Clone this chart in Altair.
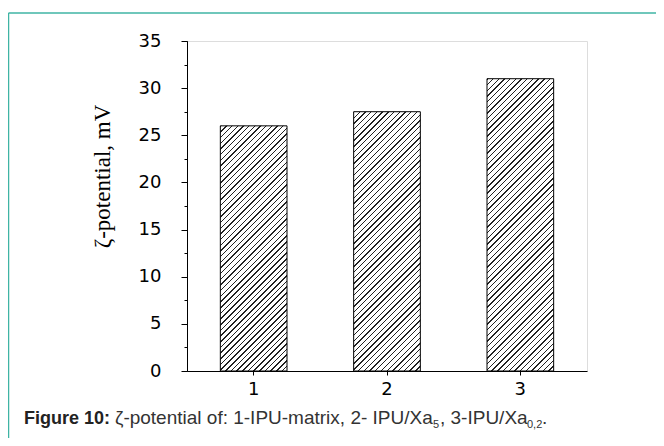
import altair as alt
import pandas as pd

# ---- data ----
categories = ["1", "2", "3"]
zeta_mV = [26.0, 27.5, 31.0]
y_major_ticks = [0, 5, 10, 15, 20, 25, 30, 35]
y_minor_ticks = [2.5, 7.5, 12.5, 17.5, 22.5, 27.5, 32.5]
y_title = "ζ-potential, mV"
caption_bold = "Figure 10:"
caption_parts = [
    ("ζ-potential of: 1-IPU-matrix, 2- IPU/Xa", "main"),
    ("5", "sub"),
    (", 3-IPU/Xa", "main"),
    ("0,2", "sub"),
    (".", "main"),
]

# ---- layout ----
PLOT_W, PLOT_H = 400, 330
PAD_L, PAD_T = 179, 33
PAD_R = 648 - PAD_L - PLOT_W
PAD_B = 430 - PAD_T - PLOT_H
Y_MAX = 35
P_INNER, P_OUTER = 0.5, 0.25

df = pd.DataFrame({"cat": categories, "val": zeta_mV})

step = PLOT_W / (len(categories) - P_INNER + 2 * P_OUTER)
band_w = step * (1 - P_INNER)


def hatch(value, period=5.7, line=1.4, dark="#222222"):
    W = band_w
    H = value / Y_MAX * PLOT_H
    S = W + H
    k = S / (W * W + H * H)
    n = max(1, int(round(S / period)))
    p = 1.0 / n
    dw = line / S
    stops = []
    for i in range(n):
        s = i * p
        stops += [
            alt.GradientStop(offset=min(s, 1), color=dark),
            alt.GradientStop(offset=min(s + dw, 1), color=dark),
            alt.GradientStop(offset=min(s + dw, 1), color="white"),
            alt.GradientStop(offset=min(s + p, 1), color="white"),
        ]
    return alt.LinearGradient(gradient="linear", stops=stops,
                              x1=0, y1=0, x2=k * W, y2=k * H)


x_enc = alt.X("cat:N", title=None,
              scale=alt.Scale(domain=categories, paddingInner=P_INNER, paddingOuter=P_OUTER),
              axis=alt.Axis(labelAngle=0, tickSize=4, labelPadding=5, labelFont="DejaVu Sans",
                            labelFontSize=18, labelColor="black", domainColor="black",
                            tickColor="black", grid=False))

major_axis = alt.Axis(values=y_major_ticks, tickSize=6, labelPadding=20, labelFont="DejaVu Sans",
                      labelFontSize=18, labelColor="black", domainColor="black", tickColor="black",
                      grid=False, orient="left", title=y_title, titleFont="Liberation Serif",
                      titleFontSize=23, titleFontWeight="normal", titleColor="black",
                      titleX=-78, titleY=135, titleAngle=270, titleAlign="center",
                      titleBaseline="alphabetic")
minor_axis = alt.Axis(values=y_minor_ticks, tickSize=3, labels=False, domainColor="black",
                      tickColor="black", grid=False, orient="left", title=None)

layers = []
for i, (c, v) in enumerate(zip(categories, zeta_mV)):
    ax = major_axis if i == 0 else (minor_axis if i == 1 else None)
    y_kwargs = dict(scale=alt.Scale(domain=[0, Y_MAX], nice=False, zero=True))
    if ax is None:
        y_enc = alt.Y("val:Q", axis=None, **y_kwargs)
    else:
        y_enc = alt.Y("val:Q", axis=ax, **y_kwargs)
    layers.append(
        alt.Chart(df).transform_filter(alt.datum.cat == c)
        .mark_bar(fill=hatch(v), stroke="black", strokeWidth=1)
        .encode(x=x_enc, y=y_enc)
    )

one = alt.Data(values=[{"k": 1}])
frame_color = "#3fb4a4"
left_line = alt.Chart(one).mark_rule(color=frame_color, strokeWidth=1.5).encode(
    x=alt.value(-178.5), y=alt.value(-28), y2=alt.value(PLOT_H + PAD_B))
top_line = alt.Chart(one).mark_rule(color=frame_color, strokeWidth=1.5).encode(
    x=alt.value(-178.5), x2=alt.value(PLOT_W + PAD_R), y=alt.value(-28))

cap_y = 383
bold_txt = alt.Chart(one).mark_text(
    text=caption_bold, font="Liberation Sans", fontSize=18, fontWeight="bold",
    color="#222222", align="left", baseline="alphabetic").encode(
    x=alt.value(-163), y=alt.value(cap_y))

part_x = [-72, 246, 253, 340, 355]
cap_layers = []
for (txt, kind), px in zip(caption_parts, part_x):
    if kind == "main":
        cap_layers.append(alt.Chart(one).mark_text(
            text=txt, font="Liberation Sans", fontSize=19, color="#333333",
            align="left", baseline="alphabetic").encode(x=alt.value(px), y=alt.value(cap_y)))
    else:
        cap_layers.append(alt.Chart(one).mark_text(
            text=txt, font="Liberation Sans", fontSize=11, color="#333333",
            align="left", baseline="alphabetic").encode(x=alt.value(px), y=alt.value(cap_y + 4)))

chart = alt.layer(*layers, left_line, top_line, bold_txt, *cap_layers).resolve_axis(
    y="independent").properties(
    width=PLOT_W, height=PLOT_H,
    autosize=alt.AutoSizeParams(type="none"),
    padding={"left": PAD_L, "top": PAD_T, "right": PAD_R, "bottom": PAD_B},
).configure_view(stroke=None).configure(background="white")

chart.save("out.html", embed_options={"renderer": "svg", "actions": False})
